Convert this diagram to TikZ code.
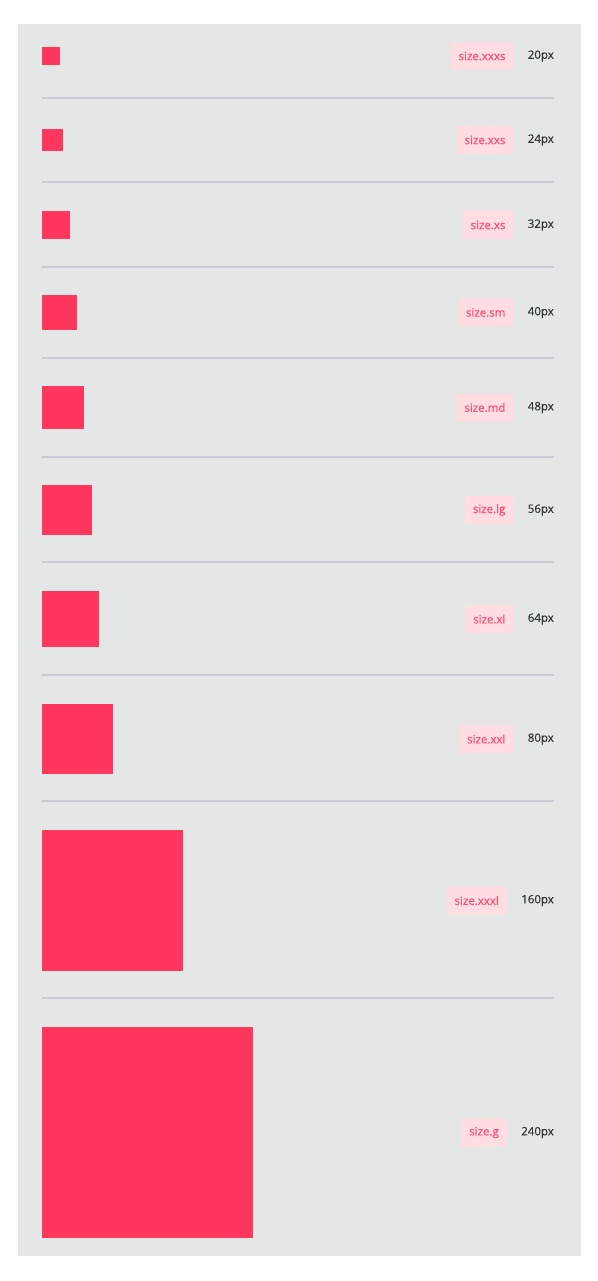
\documentclass[tikz,border=0pt]{standalone}
\usepackage{fontspec}
\setmainfont{Open Sans}
\newfontfamily\semifont[FakeBold=0.5]{Open Sans}
\usetikzlibrary{positioning}
\definecolor{panelgray}{HTML}{E5E6E6}
\definecolor{swatch}{HTML}{FF375F}
\definecolor{tagbg}{HTML}{FFDDE3}
\definecolor{tagfg}{HTML}{FF4D73}
\definecolor{valfg}{HTML}{333333}
\definecolor{rule}{HTML}{C9CAD2}
\begin{document}
\begin{tikzpicture}
[x=1pt,y=-1pt,
 sq/.style={fill=swatch,inner sep=0pt,anchor=west},
 tag/.style={fill=tagbg,text=tagfg,rounded corners=2pt,minimum height=28pt,inner xsep=8pt,font=\semifont\fontsize{11.5}{13}\selectfont},
 val/.style={text=valfg,anchor=east,inner sep=0pt,font=\semifont\fontsize{11.5}{13}\selectfont},
 sep/.style={draw=rule,line width=1.2pt}]
\useasboundingbox (0,0) rectangle (597,1281);
\fill [panelgray] (18,24) rectangle (581,1256);

\node [sq, minimum size=17.6pt] at (42,56) (sqxxxs) {};
\node [val] at (554,56) (vxxxs) {20px};
\node [tag, left=14pt of vxxxs] (txxxs) {size.xxxs};
\draw [sep] (42,98) -- (554,98);

\node [sq, minimum size=21.1pt] at (42,140) (sqxxs) {};
\node [val] at (554,140) (vxxs) {24px};
\node [tag, left=14pt of vxxs] (txxs) {size.xxs};
\draw [sep] (42,182) -- (554,182);

\node [sq, minimum size=28.2pt] at (42,225) (sqxs) {};
\node [val] at (554,225) (vxs) {32px};
\node [tag, left=14pt of vxs] (txs) {size.xs};
\draw [sep] (42,267) -- (554,267);

\node [sq, minimum size=35.2pt] at (42,312.5) (sqsm) {};
\node [val] at (554,312.5) (vsm) {40px};
\node [tag, left=14pt of vsm] (tsm) {size.sm};
\draw [sep] (42,358) -- (554,358);

\node [sq, minimum size=42.2pt] at (42,407.5) (sqmd) {};
\node [val] at (554,407.5) (vmd) {48px};
\node [tag, left=14pt of vmd] (tmd) {size.md};
\draw [sep] (42,457) -- (554,457);

\node [sq, minimum size=49.3pt] at (42,510) (sqlg) {};
\node [val] at (554,510) (vlg) {56px};
\node [tag, left=14pt of vlg] (tlg) {size.lg};
\draw [sep] (42,562) -- (554,562);

\node [sq, minimum size=56.3pt] at (42,619) (sqxl) {};
\node [val] at (554,619) (vxl) {64px};
\node [tag, left=14pt of vxl] (txl) {size.xl};
\draw [sep] (42,675) -- (554,675);

\node [sq, minimum size=70.4pt] at (42,739) (sqxxl) {};
\node [val] at (554,739) (vxxl) {80px};
\node [tag, left=14pt of vxxl] (txxl) {size.xxl};
\draw [sep] (42,801) -- (554,801);

\node [sq, minimum size=140.8pt] at (42,900.5) (sqxxxl) {};
\node [val] at (554,900.5) (vxxxl) {160px};
\node [tag, left=14pt of vxxxl] (txxxl) {size.xxxl};
\draw [sep] (42,998) -- (554,998);

\node [sq, minimum size=211.2pt] at (42,1132.5) (sqg) {};
\node [val] at (554,1132.5) (vg) {240px};
\node [tag, left=14pt of vg] (tg) {size.g};
\end{tikzpicture}
\end{document}
